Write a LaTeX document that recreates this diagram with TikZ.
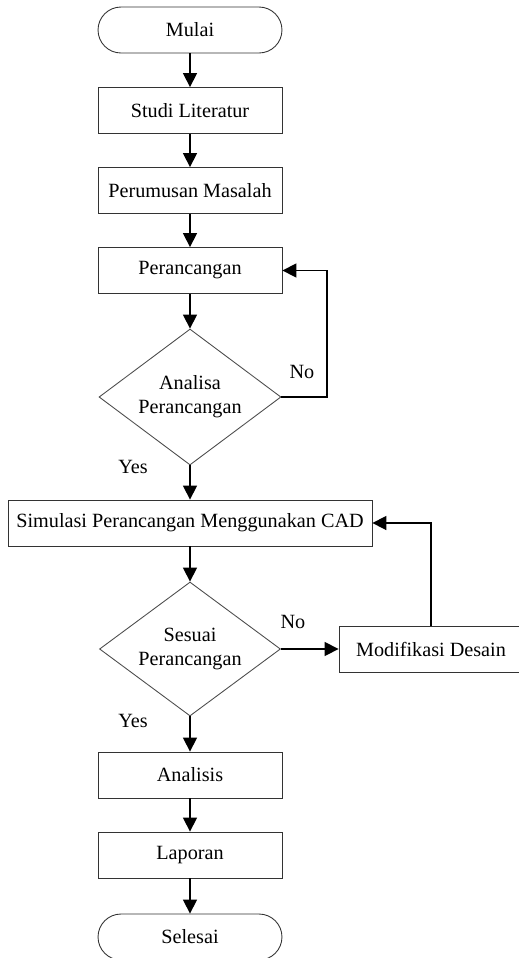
\documentclass[tikz,border=0pt]{standalone}
\usepackage{fontspec}
\setmainfont{Liberation Serif}
\usepackage{tikz}
\usetikzlibrary{shapes.geometric, arrows.meta}

\begin{document}
\begin{tikzpicture}[x=0.02cm, y=-0.02cm,
        every node/.style={font=\fontsize{11.5}{13.5}\selectfont},
        proc/.style={draw=black!80, line width=0.5pt, rectangle, minimum width=3.68cm, minimum height=0.92cm, inner sep=2pt},
        term/.style={proc, rounded corners=0.46cm},
        dec/.style={draw=black!70, line width=0.5pt, diamond, aspect=1.33, align=center, inner sep=0pt, minimum width=3.64cm, minimum height=2.72cm},
        flow/.style={-{Triangle[length=8pt, width=8pt]}, line width=0.9pt}]
        \useasboundingbox (0,0) rectangle (518,958);

        \node[term] (mulai) at (190,30) {Mulai};
        \node[proc] (studi) at (190,110.5) {Studi Literatur};
        \node[proc] (rumus) at (190,190.5) {Perumusan Masalah};
        \node[proc] (rancang) at (190,270.5) {Perancangan};
        \node[dec] (analisa) at (190,397) {Analisa\\Perancangan};
        \node[proc, minimum width=7.28cm] (simulasi) at (190,523) {Simulasi Perancangan Menggunakan CAD};
        \node[dec, minimum width=3.62cm, minimum height=2.68cm] (sesuai) at (190,649) {Sesuai\\Perancangan};
        \node[proc] (modif) at (431,649) {Modifikasi Desain};
        \node[proc] (analisis) at (190,775) {Analisis};
        \node[proc] (laporan) at (190,855) {Laporan};
        \node[term] (selesai) at (190,937) {Selesai};

        \node (yes1) at (133,467) {Yes};
        \node (no1) at (302,372) {No};
        \node (yes2) at (133,721) {Yes};
        \node (no2) at (293,622) {No};

        \draw[flow] (mulai)--(studi);
        \draw[flow] (studi)--(rumus);
        \draw[flow] (rumus)--(rancang);
        \draw[flow] (rancang)--(analisa);
        \draw[flow] (analisa.south)--(simulasi);
        \draw[flow] (analisa.east) -| (327,330) |- (rancang.east);
        \draw[flow] (simulasi)--(sesuai);
        \draw[flow] (sesuai.east)--(modif.west);
        \draw[flow] (modif.north) |- (simulasi.east);
        \draw[flow] (sesuai.south)--(analisis);
        \draw[flow] (analisis)--(laporan);
        \draw[flow] (laporan)--(selesai);
    \end{tikzpicture}
\end{document}
